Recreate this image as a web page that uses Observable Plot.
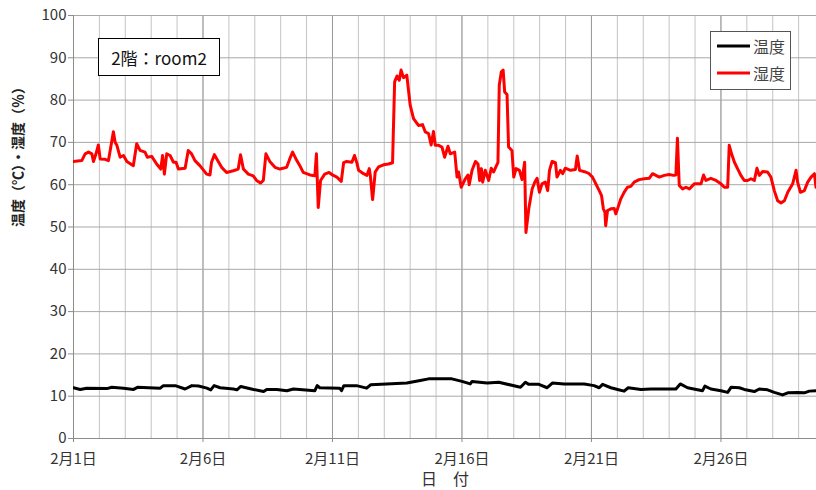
<!DOCTYPE html>
<html>
<head>
<meta charset="utf-8">
<script src="https://cdn.jsdelivr.net/npm/d3@7"></script>
<script src="https://cdn.jsdelivr.net/npm/@observablehq/plot@0.6"></script>
<style>
  html, body { margin: 0; padding: 0; background: white; }
</style>
</head>
<body>
<div id="chart"></div>
<script>
// Day offsets from 2月1日 00:00, and values
const humDays = [0.00,0.32,0.45,0.58,0.71,0.77,0.87,0.96,1.03,1.22,1.35,1.44,1.54,1.61,1.67,1.80,1.93,2.06,2.31,2.44,2.57,2.76,2.85,3.02,3.21,3.37,3.44,3.51,3.60,3.73,3.86,3.96,4.05,4.31,4.43,4.56,4.69,4.88,5.14,5.27,5.33,5.44,5.59,5.72,5.91,6.17,6.36,6.45,6.56,6.75,6.94,7.07,7.22,7.33,7.43,7.58,7.78,7.97,8.23,8.35,8.46,8.59,8.74,8.87,9.13,9.32,9.38,9.45,9.54,9.70,9.87,
  10.00,10.17,10.34,10.43,10.55,10.75,10.85,10.94,11.01,11.20,11.33,11.42,11.46,11.55,11.65,11.78,11.97,12.16,12.32,12.40,12.49,12.58,12.65,12.74,12.87,13.00,13.13,13.32,13.48,13.58,13.71,13.81,13.90,13.97,14.10,14.23,14.33,14.46,14.55,14.72,14.81,14.87,14.97,15.13,15.23,15.28,15.39,15.52,15.62,15.68,15.75,15.80,15.90,16.03,16.13,16.22,16.31,16.39,16.44,16.52,16.59,16.65,16.74,16.80,16.93,17.00,17.09,17.22,17.32,17.42,17.47,17.58,17.71,17.81,17.90,17.99,18.09,18.22,18.31,18.38,18.48,18.61,18.67,18.80,18.89,18.99,19.19,19.38,19.45,19.54,19.77,
  19.91,20.04,20.17,20.30,20.39,20.46,20.52,20.55,20.62,20.75,20.88,20.94,21.03,21.13,21.26,21.39,21.52,21.65,21.84,22.04,22.23,22.36,22.49,22.62,22.81,23.00,23.17,23.26,23.32,23.39,23.52,23.65,23.78,23.97,24.23,24.33,24.42,24.61,24.81,25.00,25.13,25.26,25.32,25.41,25.52,25.64,25.77,25.90,26.03,26.16,26.29,26.39,26.48,26.61,26.80,26.93,27.06,27.19,27.32,27.45,27.58,27.77,27.90,27.96,28.07,28.22,28.35,28.48,28.61,28.67,28.71];
const humValues = [65.5,65.7,67.3,67.7,67.3,65.5,67.3,69.4,66.1,66.0,65.7,68.9,72.5,70.0,69.4,66.5,66.9,65.5,64.5,69.7,68.1,67.7,66.5,66.7,64.9,63.7,66.9,62.5,67.3,66.9,65.3,65.3,63.7,63.9,68.1,67.3,65.7,64.5,62.5,62.3,65.3,67.1,65.5,64.1,62.9,63.3,63.7,67.1,63.7,62.5,62.1,61.0,60.4,61.0,67.3,65.5,64.1,63.7,64.1,66.1,67.7,66.1,64.5,62.9,62.3,62.1,67.3,54.6,61.0,62.5,62.9,
  62.3,61.8,60.8,65.2,65.5,65.3,66.9,65.2,63.4,62.6,62.2,63.8,62.2,56.5,63.0,64.2,64.7,64.9,65.2,84.3,85.7,84.7,87.1,85.3,85.9,78.8,75.6,74.0,74.2,72.5,72.1,69.4,72.6,69.3,69.3,68.9,66.5,69.1,67.3,67.7,61.8,63.0,59.4,61.4,62.3,60.0,63.4,65.5,64.9,61.0,63.8,60.6,63.4,61.0,63.9,63.0,64.2,65.3,83.5,86.7,87.1,81.9,81.3,68.9,68.1,61.8,63.8,63.4,61.2,65.3,48.7,54.3,59.0,60.6,61.5,58.2,60.2,60.6,58.6,63.4,65.5,65.2,61.8,63.4,62.6,63.9,63.4,63.6,66.8,63.4,63.0,
  62.6,61.8,60.2,58.6,57.4,54.3,53.5,50.3,53.9,54.3,54.4,53.1,54.7,56.6,58.2,59.4,59.6,60.6,61.2,61.4,61.5,62.6,62.2,61.8,62.2,62.4,62.2,62.3,71.0,59.8,59.0,59.4,59.0,60.2,60.2,62.3,61.0,61.5,61.0,60.2,59.4,59.4,69.3,67.3,65.3,63.8,62.2,61.0,61.0,61.4,61.0,63.9,62.2,63.1,63.0,61.8,58.6,56.2,55.7,56.2,58.2,60.2,63.4,60.6,58.2,58.6,60.6,61.8,62.6,59.4,59.4];

const tempDays = [0.00,0.26,0.51,1.29,1.48,1.93,2.32,2.47,3.35,3.47,3.93,4.31,4.57,4.83,5.15,5.30,5.43,5.66,6.18,6.31,6.46,6.95,7.34,7.46,7.85,8.24,8.49,8.73,9.32,9.41,9.51,10.28,10.35,10.44,10.93,11.32,11.47,12.09,12.87,13.39,13.71,14.61,15.00,15.32,15.39,15.97,16.42,17.26,17.45,17.58,17.97,18.29,18.49,18.94,19.72,20.10,20.30,20.43,20.75,21.01,21.26,21.42,21.91,22.29,23.26,23.43,23.71,24.29,24.38,24.61,25.00,25.26,25.39,25.71,25.90,26.29,26.48,26.80,27.06,27.38,27.58,27.96,28.22,28.41,28.71];
const tempValues = [12.0,11.6,11.9,11.8,12.1,11.9,11.6,12.1,11.9,12.5,12.5,11.7,12.5,12.4,11.9,11.5,12.5,12.0,11.7,11.5,12.3,11.6,11.1,11.6,11.6,11.3,11.7,11.6,11.3,12.5,12.0,11.9,11.3,12.5,12.5,11.9,12.7,12.9,13.1,13.7,14.1,14.1,13.5,12.9,13.5,13.1,13.3,12.1,13.3,12.8,12.8,12.0,13.1,12.9,12.9,12.5,12.0,12.8,12.0,11.6,11.2,12.0,11.6,11.7,11.7,12.9,12.0,11.3,12.4,11.7,11.3,10.9,12.1,12.0,11.6,11.1,11.7,11.5,10.9,10.3,10.8,10.9,10.8,11.2,11.3];

const dayGrid = [0,1,2,3,4,5,6,7,8,9,10,11,12,13,14,15,16,17,18,19,20,21,22,23,24,25,26,27,28];
const xTickDays = [0,5,10,15,20,25];
const xTickLabels = ["2月1日","2月6日","2月11日","2月16日","2月21日","2月26日"];
const yTicks = [0,10,20,30,40,50,60,70,80,90,100];

const seriesNames = ["温度","湿度"];
const seriesColors = ["#000000","#ff0000"];
const yLabel = "温度（℃）・湿度（％）";
const xLabel = "日　付";
const boxTitle = "2階：room2";

const hum = humDays.map((d,i) => ({day: d, value: humValues[i]}));
const temp = tempDays.map((d,i) => ({day: d, value: tempValues[i]}));

const font = "'Noto Sans CJK JP', 'Noto Sans', sans-serif";

const chart = Plot.plot({
  width: 816,
  height: 490,
  marginLeft: 73,
  marginRight: 0,
  marginTop: 15,
  marginBottom: 52,
  style: {fontFamily: font, fontSize: "14px", background: "white", color: "#333"},
  x: {domain: [0, 28.69]},
  y: {domain: [0, 100]},
  marks: [
    Plot.gridX(dayGrid, {stroke: "#c4c4c4", strokeOpacity: 1}),
    Plot.gridX(xTickDays, {stroke: "#9a9a9a", strokeOpacity: 1}),
    Plot.gridY(yTicks, {stroke: "#a8a8a8", strokeOpacity: 1}),
    Plot.ruleX([0], {stroke: "#8c8c8c"}),
    Plot.ruleY([0], {stroke: "#8c8c8c"}),
    Plot.axisY(yTicks, {tickSize: 5, tickPadding: 2, stroke: "#8c8c8c", fill: "#333", fontSize: 15, label: null}),
    Plot.axisX(xTickDays, {tickSize: 4, tickPadding: 11, stroke: "#8c8c8c", fill: "#333", fontSize: 15, label: null,
      tickFormat: d => xTickLabels[xTickDays.indexOf(d)]}),
    Plot.line(hum, {x: "day", y: "value", stroke: seriesColors[1], strokeWidth: 3, clip: true}),
    Plot.line(temp, {x: "day", y: "value", stroke: seriesColors[0], strokeWidth: 3, clip: true}),
    Plot.text([yLabel], {frameAnchor: "left", dx: -55, rotate: -90, fontWeight: "bold", fontSize: 14, fill: "#222"}),
    Plot.text([xLabel], {frameAnchor: "bottom", dy: 46, fontSize: 16, fill: "#333"})
  ]
});

document.getElementById("chart").appendChild(chart);

// Title box and legend
const svg = d3.select(chart);
const tb = svg.append("g");
tb.append("rect").attr("x", 98.5).attr("y", 38.5).attr("width", 121).attr("height", 37)
  .attr("fill", "white").attr("stroke", "#000").attr("stroke-width", 1);
tb.append("text").attr("x", 159).attr("y", 57).attr("text-anchor", "middle").attr("dominant-baseline", "central")
  .attr("font-size", 17).attr("fill", "#111").text(boxTitle);

const lg = svg.append("g");
lg.append("rect").attr("x", 710.5).attr("y", 31.5).attr("width", 80).attr("height", 58)
  .attr("fill", "white").attr("stroke", "#555").attr("stroke-width", 1);
seriesNames.forEach((name, i) => {
  const yy = 46 + i * 27;
  lg.append("line").attr("x1", 717).attr("x2", 750).attr("y1", yy).attr("y2", yy)
    .attr("stroke", seriesColors[i]).attr("stroke-width", 3);
  lg.append("text").attr("x", 753).attr("y", yy).attr("text-anchor", "start").attr("dominant-baseline", "central")
    .attr("font-size", 16).attr("fill", "#444").text(name);
});
</script>
</body>
</html>
